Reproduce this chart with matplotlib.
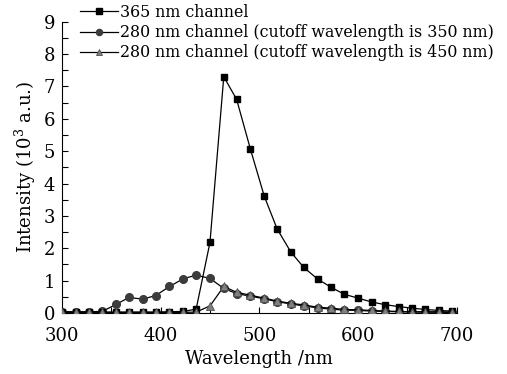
import matplotlib
matplotlib.use("Agg")
import matplotlib.pyplot as plt
from matplotlib.ticker import MultipleLocator

plt.rcParams["font.family"] = "DejaVu Serif"
plt.rcParams["mathtext.fontset"] = "dejavuserif"

wavelength = [300, 314, 327, 341, 355, 368, 382, 395, 409, 423,
              436, 450, 464, 477, 491, 505, 518, 532, 545, 559,
              573, 586, 600, 614, 627, 641, 655, 668, 682, 695]

ch365 = [0.03, 0.03, 0.03, 0.03, 0.03, 0.03, 0.03, 0.03, 0.04, 0.05,
         0.12, 2.18, 7.30, 6.60, 5.06, 3.61, 2.60, 1.88, 1.41, 1.05,
         0.79, 0.58, 0.46, 0.34, 0.26, 0.20, 0.15, 0.11, 0.08, 0.06]

ch280_350 = [0.04, 0.04, 0.04, 0.05, 0.27, 0.48, 0.43, 0.54, 0.82, 1.06,
             1.17, 1.07, 0.76, 0.60, 0.52, 0.44, 0.35, 0.28, 0.22, 0.16,
             0.12, 0.09, 0.08, 0.06, 0.05, 0.04, 0.03, 0.03, 0.02, 0.02]

ch280_450 = [0.02, 0.02, 0.02, 0.02, 0.02, 0.02, 0.02, 0.02, 0.02, 0.02,
             0.03, 0.22, 0.82, 0.64, 0.55, 0.46, 0.37, 0.30, 0.25, 0.18,
             0.15, 0.11, 0.10, 0.08, 0.06, 0.05, 0.04, 0.04, 0.04, 0.03]

labels = ["365 nm channel",
          "280 nm channel (cutoff wavelength is 350 nm)",
          "280 nm channel (cutoff wavelength is 450 nm)"]

fig = plt.figure(figsize=(5.07, 3.74), dpi=100)
ax = fig.add_axes([0.122, 0.163, 0.779, 0.779])

ax.plot(wavelength, ch365, color="black", lw=0.9, marker="s", ms=4.8,
        mfc="black", mec="black", label=labels[0], zorder=3)
ax.plot(wavelength, ch280_350, color="black", lw=0.9, marker="o", ms=5.5,
        mfc="#3c3c3c", mec="#3c3c3c", label=labels[1], zorder=2)
ax.plot(wavelength, ch280_450, color="black", lw=0.9, marker="^", ms=5.5,
        mfc="#808080", mec="#505050", mew=0.6, label=labels[2], zorder=4)

ax.set_xlim(300, 700)
ax.set_ylim(0, 9)
ax.xaxis.set_major_locator(MultipleLocator(100))
ax.xaxis.set_minor_locator(MultipleLocator(50))
ax.yaxis.set_major_locator(MultipleLocator(1))
ax.yaxis.set_minor_locator(MultipleLocator(0.5))
ax.tick_params(which="both", direction="in", length=4, width=0.8,
               labelsize=13, top=False, right=False)
ax.tick_params(axis="x", pad=10)
ax.tick_params(axis="y", pad=5)
ax.spines["top"].set_visible(False)
ax.spines["right"].set_visible(False)

ax.set_xlabel("Wavelength /nm", fontsize=13, labelpad=4)
ax.set_ylabel(r"Intensity (10$^3$ a.u.)", fontsize=13, labelpad=4)

fig.legend(loc="upper left", bbox_to_anchor=(80 / 507, 1 - 4 / 374),
           frameon=False, fontsize=11.4, handlelength=2.4,
           handletextpad=0.12, labelspacing=0.2, borderpad=0,
           borderaxespad=0, markerscale=0.8)

fig.savefig("out.png", dpi=100)
